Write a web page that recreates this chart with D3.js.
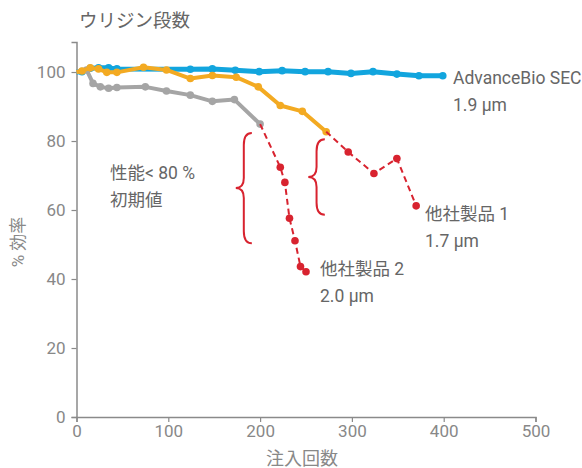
<!DOCTYPE html>
<html>
<head>
    <meta charset='utf-8'>
    <title>Uridine</title>
    <script src='https://cdn.jsdelivr.net/npm/d3@7'></script>
    <style>
        body { margin: 0; background: #fff; }
        text { font-family: Roboto, 'Noto Sans CJK JP', sans-serif; }
    </style>
</head>
<body>
    <svg width='582' height='468'></svg>
    <script>
        // AdvanceBio SEC 1.9 µm
        const blueX = [0, 6, 15, 24, 35, 44, 124, 148, 173, 199, 224, 249, 274, 299, 323, 349, 373, 399]
        const blueY = [100, 100.1, 101.1, 101.2, 101.2, 100.9, 100.8, 100.9, 100.5, 100.1, 100.4, 100.1, 100.1, 99.6, 100.1, 99.4, 98.9, 98.9]
        // 他社製品 1 (solid part, >= 80 %)
        const orangeX = [0, 6, 15, 24, 33, 44, 73, 98, 124, 148, 174, 198, 222, 246, 272]
        const orangeY = [100, 100.3, 101.2, 100.9, 99.9, 99.9, 101.4, 100.6, 98.1, 99.0, 98.5, 95.7, 90.3, 88.6, 82.7]
        // 他社製品 1 (dashed part, < 80 %)
        const red1X = [272, 296, 324, 349, 370]
        const red1Y = [82.7, 76.8, 70.6, 74.9, 61.2]
        // 他社製品 2 (solid part)
        const grayX = [0, 11, 18, 26, 35, 44, 75, 98, 124, 148, 172, 200]
        const grayY = [100, 100.6, 96.7, 95.7, 95.3, 95.5, 95.7, 94.5, 93.3, 91.5, 92, 84.9]
        // 他社製品 2 (dashed part)
        const red2X = [200, 222, 227, 232, 238, 244, 250]
        const red2Y = [84.9, 72.4, 68.0, 57.6, 51.1, 43.6, 42.1]

        const xTicks = [0, 100, 200, 300, 400, 500]
        const yTicks = [0, 20, 40, 60, 80, 100]

        const svg = d3.select('svg')
        const axisColor = '#8a8a8a'
        const textColor = '#666'

        const x = d3.scaleLinear([0, 500], [76.5, 535.5])
        const y = d3.scaleLinear([0, 108.7], [417, 42])

        const zip = (xs, ys) => xs.map((v, i) => [v, ys[i]])
        const line = d3.line().x(d => x(d[0])).y(d => y(d[1]))

        // 坐标轴
        svg.append('g').attr('transform', `translate(0,${y(0)})`)
            .call(d3.axisBottom(x).tickValues(xTicks).tickSize(5).tickPadding(3))
        svg.append('g').attr('transform', `translate(${x(0)},0)`)
            .call(d3.axisLeft(y).tickValues(yTicks).tickSize(5).tickPadding(6))
        svg.selectAll('.domain').attr('stroke', axisColor).attr('stroke-width', 1.5)
        svg.selectAll('.tick line').attr('stroke', axisColor).attr('stroke-width', 1.2)
        svg.selectAll('.tick text').attr('fill', '#888').attr('font-size', '17px')
            .attr('font-family', 'Roboto, sans-serif')

        // 系列
        function drawSeries(data, color, width, dashed, dots) {
            svg.append('path').datum(data)
                .attr('d', line)
                .attr('fill', 'none')
                .attr('stroke', color)
                .attr('stroke-width', width)
                .attr('stroke-linejoin', 'round')
                .attr('stroke-dasharray', dashed ? '6,4' : null)
            svg.append('g').selectAll('circle').data(dots).join('circle')
                .attr('cx', d => x(d[0]))
                .attr('cy', d => y(d[1]))
                .attr('r', 3.8)
                .attr('fill', color)
        }
        const blue = zip(blueX, blueY)
        const orange = zip(orangeX, orangeY)
        const gray = zip(grayX, grayY)
        const red1 = zip(red1X, red1Y)
        const red2 = zip(red2X, red2Y)

        drawSeries(blue, '#12a5de', 5, false, blue.slice(1))
        drawSeries(gray, '#a5a5a5', 4, false, gray.slice(1))
        drawSeries(orange, '#f3aa22', 4, false, orange.slice(1))
        drawSeries(red1, '#d8232f', 2, true, red1.slice(1))
        drawSeries(red2, '#d8232f', 2, true, red2.slice(1))

        // 括弧
        function brace(xTip, xEnd, yTop, yBot) {
            const x0 = x(xTip), x1 = x(xEnd)
            const t = y(yTop), b = y(yBot), m = (t + b) / 2
            const xm = (x0 + x1) / 2
            const p = `M${x1},${t} Q${xm},${t} ${xm},${t + 12} L${xm},${m - 10} Q${xm},${m} ${x0},${m}`
                + ` Q${xm},${m} ${xm},${m + 10} L${xm},${b - 12} Q${xm},${b} ${x1},${b}`
            svg.append('path').attr('d', p).attr('fill', 'none')
                .attr('stroke', '#d8232f').attr('stroke-width', 2)
        }
        brace(173.5, 191, 82.3, 50.4)
        brace(252.5, 270.5, 80.5, 58.6)

        // 文字
        function label(tx, ty, lines, size) {
            const t = svg.append('text').attr('x', tx).attr('y', ty)
                .attr('fill', textColor).attr('font-size', size || '17.5px')
            lines.forEach((s, i) => t.append('tspan').attr('x', tx).attr('dy', i ? 27 : 0).text(s))
        }
        label(110, 179, ['性能< 80 %', '初期値'])
        label(453, 84, ['AdvanceBio SEC', '1.9 µm'])
        label(425, 220, ['他社製品 1', '1.7 µm'])
        label(320, 275, ['他社製品 2', '2.0 µm'])
        label(79, 27, ['ウリジン段数'], '18.5px')

        svg.append('text').attr('x', 302).attr('y', 465).attr('text-anchor', 'middle')
            .attr('fill', '#888').attr('font-size', '18px').text('注入回数')
        svg.append('text').attr('transform', 'translate(24,242) rotate(-90)')
            .attr('text-anchor', 'middle').attr('fill', '#888').attr('font-size', '17px').text('% 効率')
    </script>
</body>
</html>
